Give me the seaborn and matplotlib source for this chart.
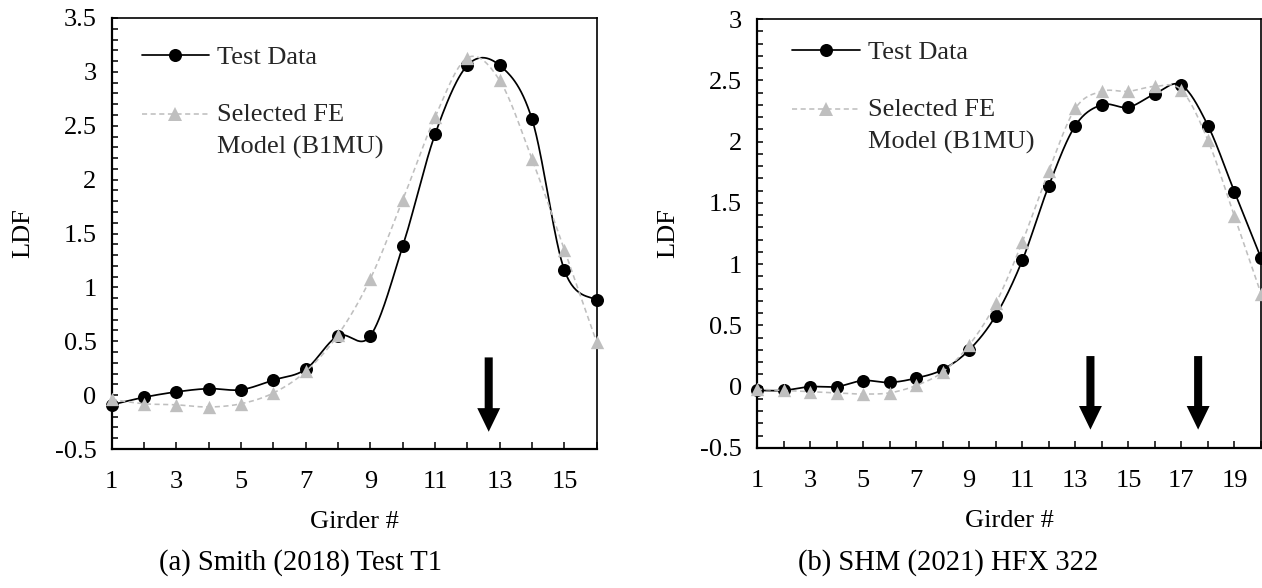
import numpy as np
import matplotlib
matplotlib.use("Agg")
import matplotlib.pyplot as plt
from matplotlib.lines import Line2D
from matplotlib.legend_handler import HandlerLine2D
from matplotlib.ticker import MultipleLocator, FuncFormatter
import seaborn as sns

# ---------------- data ----------------
girders_a = list(range(1, 17))
test_a = [-0.09, -0.02, 0.03, 0.06, 0.05, 0.14, 0.24, 0.55, 0.55, 1.38,
          2.42, 3.06, 3.06, 2.56, 1.16, 0.88]
fe_a = [-0.04, -0.08, -0.09, -0.11, -0.08, 0.02, 0.22, 0.56, 1.08, 1.81,
        2.58, 3.13, 2.92, 2.19, 1.35, 0.49]
arrows_a = [12.66]

girders_b = list(range(1, 21))
test_b = [-0.03, -0.03, 0.00, 0.00, 0.05, 0.035, 0.07, 0.14, 0.30, 0.58,
          1.03, 1.64, 2.13, 2.30, 2.28, 2.39, 2.46, 2.13, 1.59, 1.05]
fe_b = [-0.02, -0.03, -0.04, -0.05, -0.06, -0.05, 0.01, 0.12, 0.34, 0.68,
        1.18, 1.76, 2.27, 2.41, 2.41, 2.45, 2.42, 2.01, 1.39, 0.76]
arrows_b = [13.57, 17.63]

arrow_top_a, arrow_tip_a = 0.35, -0.34
arrow_top_b, arrow_tip_b = 0.25, -0.35

series_names = ["Test Data", "Selected FE\nModel (B1MU)"]
captions = ["(a) Smith (2018) Test T1", "(b) SHM (2021) HFX 322"]

# ---------------- style ----------------
sns.set_theme(style="white")
plt.rcParams["font.family"] = ["Liberation Serif", "DejaVu Serif"]
plt.rcParams["axes.unicode_minus"] = False

BLACK = "#000000"
GREY = "#BFBFBF"
TICK_FS = 19
LEGEND_FS = 19
LABEL_FS = 19
CAPTION_FS = 20.6


def smooth_curve(x, y, n=30):
    """Bezier smoothing through every point (Catmull-Rom style control points)."""
    p = np.column_stack([np.asarray(x, float), np.asarray(y, float)])
    pad = np.vstack([p[0], p, p[-1]])
    t = np.linspace(0.0, 1.0, n + 1)[1:, None]
    pts = [p[:1]]
    for i in range(len(p) - 1):
        p0, p3 = pad[i + 1], pad[i + 2]
        c1 = p0 + (pad[i + 2] - pad[i]) / 6.0
        c2 = p3 - (pad[i + 3] - pad[i + 1]) / 6.0
        seg = ((1 - t) ** 3) * p0 + 3 * ((1 - t) ** 2) * t * c1 \
            + 3 * (1 - t) * t ** 2 * c2 + t ** 3 * p3
        pts.append(seg)
    pts = np.vstack(pts)
    return pts[:, 0], pts[:, 1]


class RaisedLineHandler(HandlerLine2D):
    """Legend handle aligned with the first line of a two-line label."""

    def __init__(self, raise_pts, **kw):
        super().__init__(**kw)
        self.raise_pts = raise_pts

    def create_artists(self, legend, orig_handle, xdescent, ydescent,
                       width, height, fontsize, trans):
        return super().create_artists(legend, orig_handle, xdescent,
                                       ydescent - 2 * self.raise_pts,
                                       width, height, fontsize, trans)


def draw_panel(ax, girders, test, fe, arrows, arrow_top, arrow_tip,
               xmax, ymax, legend_anchor, handle_len):
    sx, sy = smooth_curve(girders, test)
    fx, fy = smooth_curve(girders, fe)

    sns.lineplot(x=sx, y=sy, ax=ax, color=BLACK, linewidth=1.25,
                 sort=False, estimator=None, zorder=2)
    sns.scatterplot(x=girders, y=test, ax=ax, marker="o", s=88,
                    color=BLACK, edgecolor=BLACK, linewidth=0,
                    zorder=3, clip_on=False)
    sns.lineplot(x=fx, y=fy, ax=ax, color=GREY, linewidth=1.15,
                 sort=False, estimator=None, zorder=4,
                 linestyle=(0, (3.2, 2.2)))
    sns.scatterplot(x=girders, y=fe, ax=ax, marker="^", s=92,
                    color=GREY, edgecolor=GREY, linewidth=0,
                    zorder=5, clip_on=False)

    for xa in arrows:
        ax.annotate("", xy=(xa, arrow_tip), xytext=(xa, arrow_top),
                    arrowprops=dict(facecolor=BLACK, edgecolor="none",
                                    width=5.8, headwidth=16.5,
                                    headlength=17.0, shrink=0.0),
                    zorder=6)

    ax.set_xlim(1, xmax)
    ax.set_ylim(-0.5, ymax)
    ax.xaxis.set_major_locator(MultipleLocator(1))
    ax.xaxis.set_major_formatter(
        FuncFormatter(lambda v, _: f"{int(round(v))}"
                      if int(round(v)) % 2 == 1 and v < xmax else ""))
    ax.yaxis.set_major_locator(MultipleLocator(0.5))
    ax.yaxis.set_minor_locator(MultipleLocator(0.1))
    ax.yaxis.set_major_formatter(FuncFormatter(lambda v, _: f"{v:g}"))

    ax.tick_params(axis="x", which="major", direction="in", length=5,
                   width=1.1, color=BLACK, pad=16, labelsize=TICK_FS,
                   labelcolor=BLACK, bottom=True, top=False)
    ax.tick_params(axis="y", which="both", direction="in", length=4.5,
                   width=1.1, color=BLACK, pad=11, labelsize=TICK_FS,
                   labelcolor=BLACK, left=True, right=False)

    for sp in ax.spines.values():
        sp.set_visible(True)
        sp.set_color(BLACK)
        sp.set_linewidth(1.2)
    ax.spines["left"].set_linewidth(1.6)
    ax.spines["bottom"].set_linewidth(1.6)

    ax.set_xlabel("Girder #", fontsize=LABEL_FS, color=BLACK, labelpad=13)
    ax.set_ylabel("LDF", fontsize=LABEL_FS, color=BLACK)
    ax.grid(False)

    h_test = Line2D([], [], color=BLACK, linewidth=1.25, marker="o",
                    markersize=9.4, markeredgewidth=0)
    h_fe = Line2D([], [], color=GREY, linewidth=1.15, marker="^",
                  markersize=9.6, markeredgewidth=0,
                  linestyle=(0, (3.2, 2.2)))
    leg = ax.legend(handles=[h_test, h_fe], labels=series_names,
                    loc="upper left", bbox_to_anchor=legend_anchor,
                    frameon=False, borderpad=0, borderaxespad=0,
                    handlelength=handle_len, handletextpad=0.3,
                    labelspacing=1.32, numpoints=1, fontsize=LEGEND_FS,
                    handler_map={h_fe: RaisedLineHandler(12.3)})
    for txt in leg.get_texts():
        txt.set_linespacing(1.52)


fig = plt.figure(figsize=(12.62, 5.88), dpi=100)
fig.patch.set_facecolor("white")

ax_a = fig.add_axes([111.7 / 1262, 1 - 449 / 588, 485 / 1262, 431 / 588])
ax_b = fig.add_axes([757 / 1262, 1 - 448 / 588, 504 / 1262, 429 / 588])

draw_panel(ax_a, girders_a, test_a, fe_a, arrows_a, arrow_top_a, arrow_tip_a,
           16, 3.5, (30 / 485, 1 - 28 / 431), 2.54)
draw_panel(ax_b, girders_b, test_b, fe_b, arrows_b, arrow_top_b, arrow_tip_b,
           20, 3.0, (35 / 504, 1 - 22 / 429), 2.58)

ax_a.yaxis.set_label_coords((34 - 111.7) / 485, 0.5)
ax_b.yaxis.set_label_coords((679 - 757) / 504, 0.5)

fig.text(300.8 / 1262, 1 - 563 / 588, captions[0], fontsize=CAPTION_FS,
         ha="center", va="center", color=BLACK)
fig.text(948 / 1262, 1 - 563 / 588, captions[1], fontsize=CAPTION_FS,
         ha="center", va="center", color=BLACK)

fig.savefig("out.png", dpi=100, facecolor="white")
